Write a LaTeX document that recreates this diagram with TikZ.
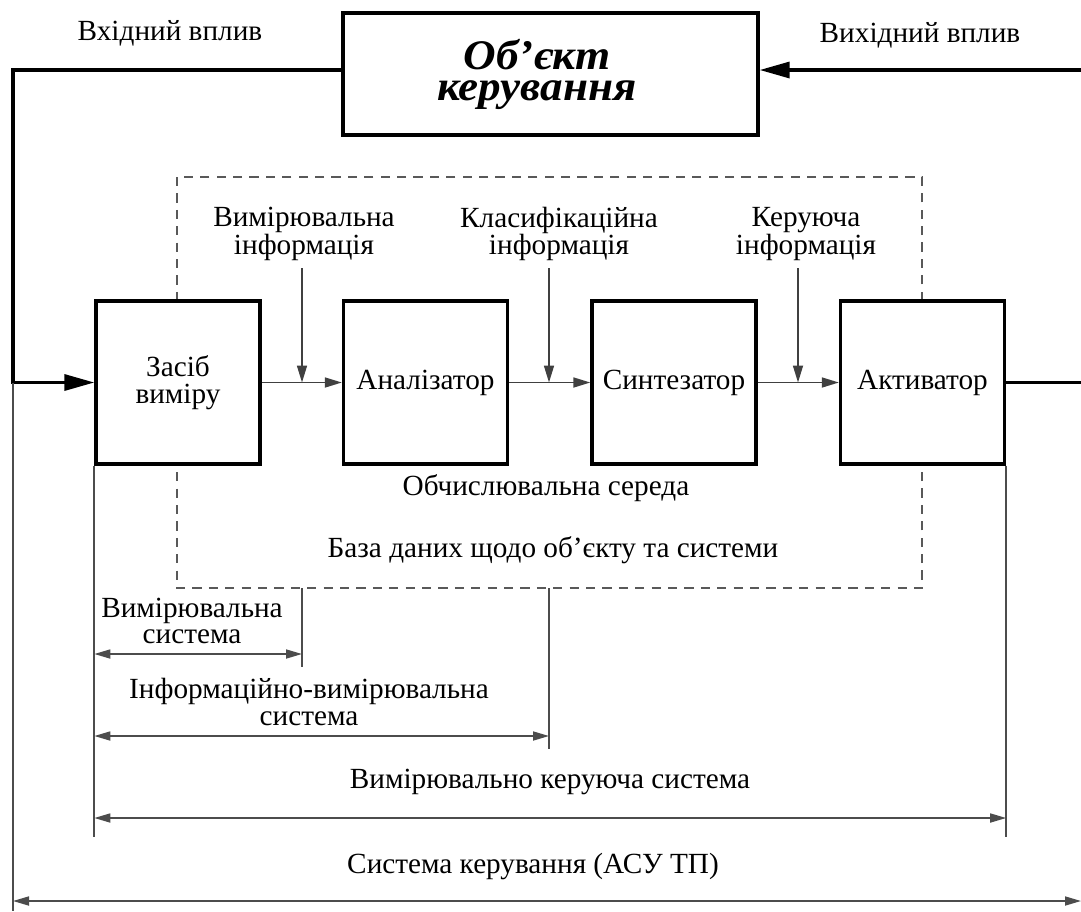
\documentclass[tikz,border=0pt]{standalone}
\usepackage{fontspec}
\setmainfont{Liberation Serif}
\usetikzlibrary{positioning,arrows.meta,calc}

\begin{document}
\begin{tikzpicture}[
  x=0.25mm, y=-0.25mm,
  font=\fontsize{20.8}{18.8}\selectfont,
  block/.style={rectangle, draw, line width=2.4pt, fill=white, minimum width=41mm, minimum height=40.75mm, inner sep=0pt, align=center},
  plant/.style={rectangle, draw, line width=2.4pt, fill=white, minimum width=103.75mm, minimum height=30.5mm},
  planttext/.style={align=center, inner sep=0pt, font=\fontsize{30}{22}\selectfont\bfseries\itshape\addfontfeature{FakeStretch=1.07}},
  txt/.style={align=center, inner sep=0pt},
  thickline/.style={line width=2.4pt},
  bigarrow/.style={thickline, -{Triangle[length=7.5mm, width=4mm]}},
  flow/.style={line width=1.2pt, black!75, -{Triangle[length=4.25mm, width=2.5mm]}},
  thin/.style={line width=1.2pt, black!70},
  dim/.style={line width=1.2pt, black!70, {Triangle[length=4mm, width=2.25mm]}-{Triangle[length=4mm, width=2.25mm]}},
  zone/.style={dash pattern=on 2.3mm off 1.8mm, line width=1.2pt, black!65},
]

\useasboundingbox (0,0) rectangle (1081,911);

% === Computing environment (dashed) ===
\draw[zone] (177,177) rectangle (922,588);

% === Control object ===
\node[plant] (obj) at (550.5,74) {};
\node[planttext] (objlbl) at (537,74) {Об’єкт\\керування};
\node[txt] (inlbl) at (170,33) {Вхідний вплив};
\node[txt] (outlbl) at (920,35) {Вихідний вплив};

% === Chain of blocks ===
\node[block] (meas) at (178,382.5) {Засіб\\виміру};
\node[block] (anl) at (425.5,382.5) {Аналізатор};
\node[block] (syn) at (674,382.5) {Синтезатор};
\node[block] (act) at (922.5,382.5) {Активатор};

\draw[flow] (meas) -- (anl);
\draw[flow] (anl) -- (syn);
\draw[flow] (syn) -- (act);

% === Information inputs ===
\node[txt] (milbl) at (304,234) {Вимірювальна\\інформація};
\node[txt] (cilbl) at (559,234) {Класифікаційна\\інформація};
\node[txt] (kilbl) at (806,234) {Керуюча\\інформація};
\coordinate (mi) at (302,268);
\coordinate (ci) at (549,268);
\coordinate (ki) at (798,268);
\draw[flow] (mi) -- (mi |- meas.east);
\draw[flow] (ci) -- (ci |- anl.east);
\draw[flow] (ki) -- (ki |- syn.east);

\node[txt] (envlbl) at (546,488) {Обчислювальна середа};
\node[txt] (dblbl) at (553,550) {База даних щодо об’єкту та системи};

% === Feedback loop ===
\coordinate (inl) at (13,70);
\coordinate (outr) at (1086,70);
\coordinate (lbot) at (13,911);
\draw[bigarrow] (obj.west |- inl) -- (inl) |- (meas.west);
\draw[bigarrow] (act.east) -| (outr) -- (obj.east |- outr);
\draw[thin] (inl |- meas.west) -- (lbot);

% === System boundaries ===
\coordinate (vs) at (302,588);
\coordinate (ivs) at (549,588);
\coordinate (rbot) at (1081,901);
\draw[thin] (meas.south west) -- ++(0,371);
\draw[thin] (act.south east) -- ++(0,371);
\draw[thin] (vs) -- ++(0,79);
\draw[thin] (ivs) -- ++(0,161);

\draw[dim] (meas.south west |- 0,654) -- (vs |- 0,654);
\draw[dim] (meas.south west |- 0,736) -- (ivs |- 0,736);
\draw[dim] (meas.south west |- 0,818) -- (act.south east |- 0,818);
\draw[dim] (lbot |- rbot) -- (rbot);

\node[txt] (vslbl) at (192,621) {Вимірювальна\\система};
\node[txt] (ivslbl) at (309,702) {Інформаційно-вимірювальна\\система};
\node[txt] (vkslbl) at (550,782) {Вимірювально керуюча система};
\node[txt] (asulbl) at (533,866) {Система керування (АСУ ТП)};

\end{tikzpicture}
\end{document}
